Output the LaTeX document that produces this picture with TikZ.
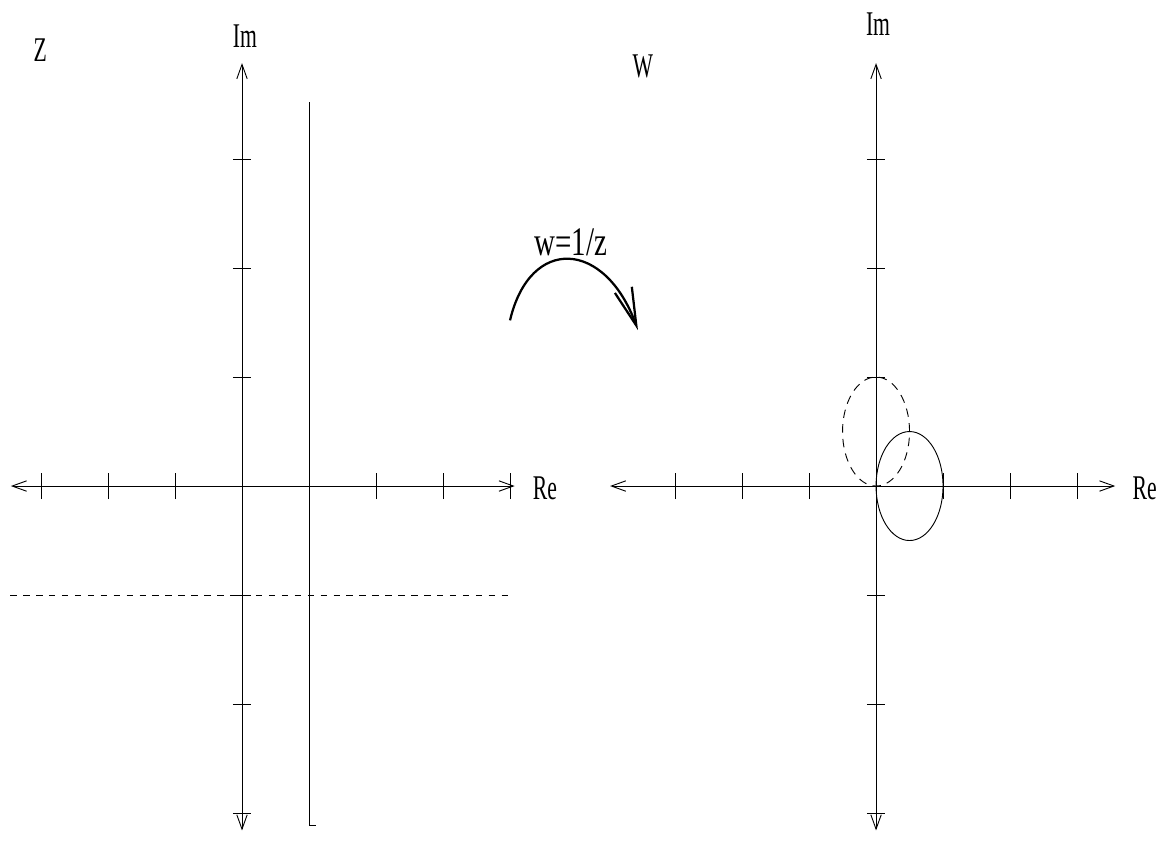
\documentclass[tikz,border=0pt]{standalone}
\usepackage{fontspec}
\setmainfont{Liberation Serif}
\usetikzlibrary{arrows.meta}
\tikzset{
  axis/.style={line width=0.65pt, {Straight Barb[length=3.6mm,width=2.6mm]}-{Straight Barb[length=3.6mm,width=2.6mm]}},
  axtick/.style={line width=0.65pt},
  curve/.style={line width=0.65pt},
  dashcurve/.style={line width=0.65pt, dash pattern=on 6pt off 4.5pt},
  dashline/.style={line width=0.65pt, dash pattern=on 4.6pt off 4.6pt},
  lbl/.style={font=\fontsize{15.4}{16}\selectfont, inner sep=0pt, yscale=1.6},
  maplbl/.style={font=\fontsize{20.6}{22}\selectfont, inner sep=0pt, yscale=1.4},
  maparrow/.style={line width=1.6pt, -{Straight Barb[length=9.5mm,width=4.5mm]}}
}
\begin{document}
\begin{tikzpicture}[x=1.675cm, y=2.725cm]
\useasboundingbox (-3.612,-3.450) rectangle (13.716,4.459);

% z plane
\draw[axis] (-3.45,0) -- (4.07,0);
\draw[axis] (0,-3.16) -- (0,3.88);
\foreach \x in {-3,-2,-1,1,2,3,4}
  \draw[axtick] (\x,0) ++(0,-0.33cm) -- ++(0,0.66cm);
\foreach \y in {-3,-2,-1,1,2,3}
  \draw[axtick] (0,\y) ++(-0.23cm,0) -- ++(0.46cm,0);
\draw[curve] (1,3.52) -- (1,-3.11) -- (1.105,-3.11);
\draw[dashline] (-3.46,-1) -- (4.0,-1);

\node[lbl] (zname) at (-3.01,4.0) {Z};
\node[lbl] (zim) at (0.045,4.13) {Im};
\node[lbl] (zre) at (4.52,-0.02) {Re};

% mapping
\coordinate (mapfrom) at (4.0,1.52);
\coordinate (mapto) at (5.91,1.43);
\draw[maparrow] (mapfrom) .. controls (4.30,2.30) and (5.42,2.26) .. (mapto);
\node[maplbl] (maplabel) at (4.91,2.24) {w=1/z};

% w plane
\begin{scope}[shift={(9.463,0)}]
\draw[axis] (-3.97,0) -- (3.57,0);
\draw[axis] (0,-3.16) -- (0,3.88);
\foreach \x in {-3,-2,-1,1,2,3}
  \draw[axtick] (\x,0) ++(0,-0.33cm) -- ++(0,0.66cm);
\foreach \y in {-3,-2,-1,1,2,3}
  \draw[axtick] (0,\y) ++(-0.23cm,0) -- ++(0.46cm,0);
\draw[dashcurve] (0,0.5) circle [x radius=0.5, y radius=0.5];
\draw[curve] (0.5,0) circle [x radius=0.5, y radius=0.5];

\node[lbl] (wname) at (-3.48,3.85) {W};
\node[lbl] (wim) at (0.03,4.24) {Im};
\node[lbl] (wre) at (4.01,-0.02) {Re};
\end{scope}
\end{tikzpicture}
\end{document}
